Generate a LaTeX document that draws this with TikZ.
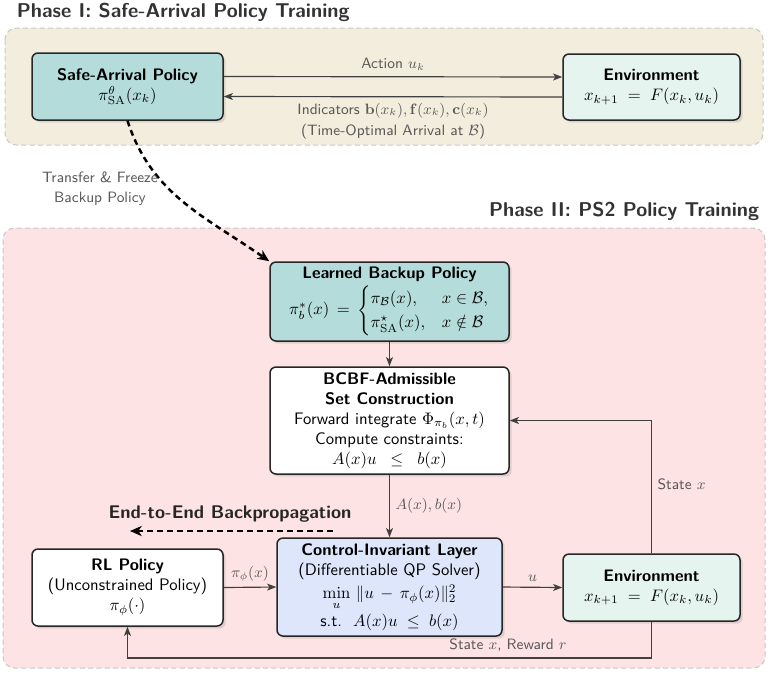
\documentclass[tikz,border=0pt]{standalone}
\usepackage{amsmath,amssymb}
\usetikzlibrary{arrows.meta,shadows,calc}
\definecolor{phaseA}{HTML}{F3EDDD}
\definecolor{phaseB}{HTML}{FDE3E3}
\definecolor{teal}{HTML}{B3DCDA}
\definecolor{mint}{HTML}{E6F4F0}
\definecolor{qpblue}{HTML}{DDE6FA}
\begin{document}
\begin{tikzpicture}[x=0.6pt,y=-0.6pt,font=\sffamily,
  box/.style={draw=black!85, line width=0.9pt, rounded corners=3.6pt, align=center,
    inner sep=2pt, drop shadow={shadow xshift=1.6pt,shadow yshift=-1.6pt,opacity=0.22}},
  conn/.style={draw=black!75, line width=0.7pt, -{Stealth[length=5.5pt,width=4.2pt,inset=1.4pt]}},
  lbl/.style={text=black!65, font=\sffamily\small},
  phase/.style={draw=black!22, dashed, dash pattern=on 3pt off 2pt, rounded corners=7pt, line width=0.6pt},
  ttl/.style={text=black!80, font=\sffamily\bfseries\large},
  thickdash/.style={draw=black, line width=1.5pt, dash pattern=on 3.5pt off 2.5pt,
    -{Stealth[length=7pt,width=6pt,inset=2pt]}}]
\useasboundingbox (0,0) rectangle (768,673);

% phase backgrounds
\draw[phase, fill=phaseA] (5,28) rectangle (763,145);
\draw[phase, fill=phaseB] (3,228) rectangle (765,668);

\node[ttl, anchor=base west] (t1) at (11,17) {Phase I: Safe-Arrival Policy Training};
\node[ttl, anchor=base east] (t2) at (765,216) {Phase II: PS2 Policy Training};

% Phase I nodes
\node[box, fill=teal, minimum width=114.6pt, minimum height=40.2pt] (sa) at (127.5,86.5)
  {\textbf{Safe-Arrival Policy}\\ $\pi^{\theta}_{\mathrm{SA}}(x_k)$};
\node[box, fill=mint, minimum width=106.2pt, minimum height=39.6pt] (env1) at (651.5,87)
  {\textbf{Environment}\\ $x_{k+1} \;=\; F(x_k,u_k)$};

\draw[conn] ([yshift=6pt]sa.east) -- node[lbl, above] {Action $u_k$} ([yshift=6pt]env1.west);
\draw[conn] ([yshift=-6pt]env1.west) -- node[lbl, below, align=center, text depth=2pt]
  {Indicators $\mathbf{b}(x_k),\mathbf{f}(x_k),\mathbf{c}(x_k)$\\[2pt](Time-Optimal Arrival at $\mathcal{B}$)}
  ([yshift=-6pt]sa.east);

% Phase II nodes
\node[box, fill=teal, minimum width=143.4pt, minimum height=47.4pt] (lb) at (389.5,301.5)
  {\textbf{Learned Backup Policy}\\[1pt]
   $\pi_b^{*}(x) \,=\, \begin{cases}\pi_{\mathcal{B}}(x), & x\in\mathcal{B},\\ \pi^{\star}_{\mathrm{SA}}(x), & x\notin\mathcal{B}\end{cases}$};
\node[box, fill=white, minimum width=143.4pt, minimum height=64.2pt] (bc) at (389.5,420.5)
  {\textbf{BCBF-Admissible}\\ \textbf{Set Construction}\\ Forward integrate $\Phi_{\pi_b}(x,t)$\\
   Compute constraints:\\ $A(x)u \;\;\le\;\; b(x)$};
\node[box, fill=qpblue, minimum width=135pt, minimum height=58.8pt] (cil) at (389.5,587)
  {\textbf{Control-Invariant Layer}\\ (Differentiable QP Solver)\\[2pt]
   $\min\limits_{u}\,\|u \,-\, \pi_\phi(x)\|_2^2$\\[1pt] s.t.\ \ $A(x)u \;\le\; b(x)$};
\node[box, fill=white, minimum width=114.6pt, minimum height=46.2pt] (rl) at (127.5,587.5)
  {\textbf{RL Policy}\\ (Unconstrained Policy)\\ $\pi_\phi(\cdot)$};
\node[box, fill=mint, minimum width=106.2pt, minimum height=40.2pt] (env2) at (651.5,587.5)
  {\textbf{Environment}\\ $x_{k+1} \;=\; F(x_k,u_k)$};

% transfer
\draw[thickdash] (sa.south) to[out=-72,in=145] (lb.north west);
\node[lbl, align=center] (tf) at (100,189) {Transfer \& Freeze\\[1pt]Backup Policy};

% phase II connectors
\draw[conn] (lb.south) -- (bc.north);
\draw[conn] (bc.south) -- node[lbl, right, pos=0.5] {$A(x),b(x)$} (cil.north);
\draw[conn] (rl.east) -- node[lbl, above] {$\pi_\phi(x)$} (cil.west);
\draw[conn] (cil.east) -- node[lbl, above] {$u$} (env2.west);
\draw[conn] (env2.north) |- node[lbl, right, pos=0.26] {State $x$} (bc.east);
\coordinate (bot) at (0,658);
\draw[conn] (env2.south) -- (env2.south |- bot) -- node[lbl, above, pos=0.274] {State $x$, Reward $r$} (rl.south |- bot) -- (rl.south);

% backprop
\node[text=black!85, font=\sffamily\bfseries\fontsize{11}{13}\selectfont] (bp) at (230,514) {End-to-End Backpropagation};
\coordinate (bpa) at (333,531);
\coordinate (bpb) at (130,531);
\draw[thickdash, line width=1.3pt] (bpa) -- (bpb);
\end{tikzpicture}
\end{document}
